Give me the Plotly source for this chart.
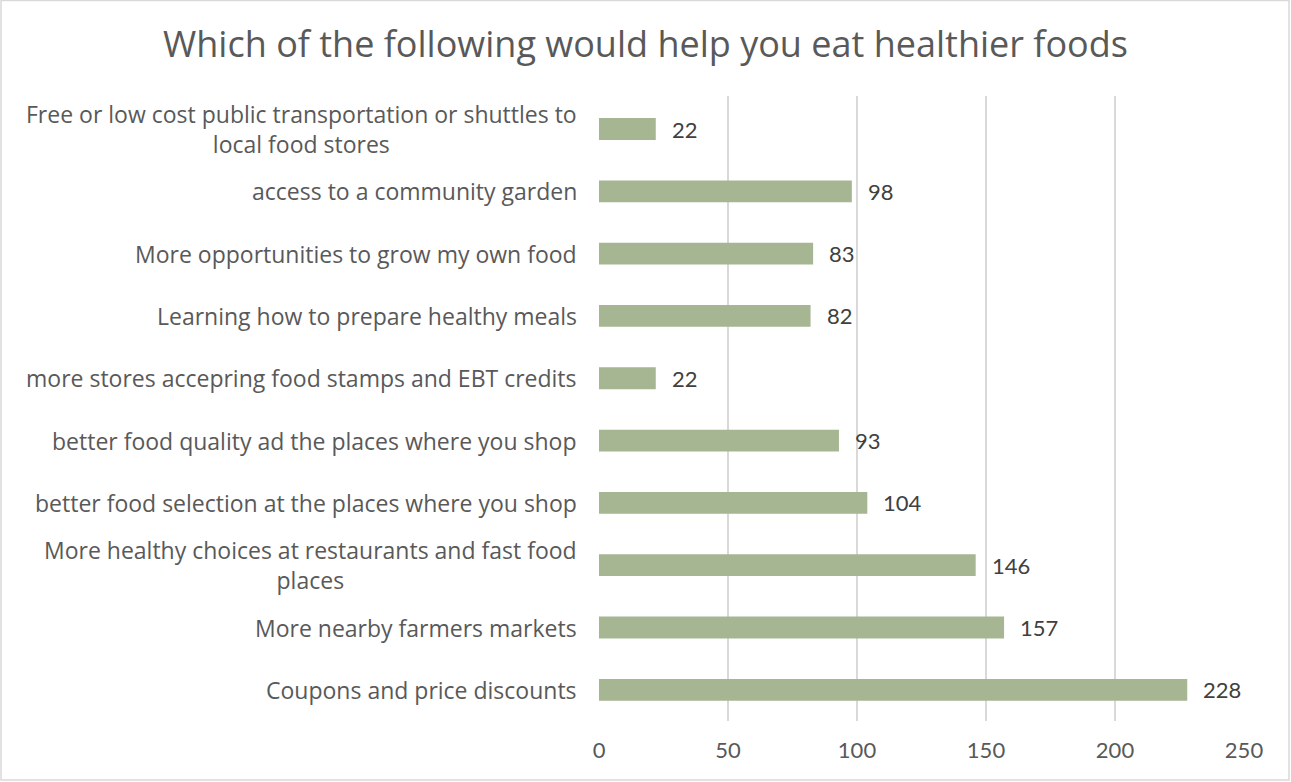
import plotly.graph_objects as go

# Survey responses, listed bottom to top
categories = [
    "Coupons and price discounts",
    "More nearby farmers markets",
    "More healthy choices at restaurants and fast food<br>places",
    "better food selection at the places where you shop",
    "better food quality ad the places where you shop",
    "more stores accepring food stamps and EBT credits",
    "Learning how to prepare healthy meals",
    "More opportunities to grow my own food",
    "access to a community garden",
    "Free or low cost public transportation or shuttles to<br>local food stores",
]
values = [228, 157, 146, 104, 93, 22, 82, 83, 98, 22]
x_ticks = [0, 50, 100, 150, 200, 250]

W, H = 1291, 782
ML, MR, MT, MB = 599, 47, 96, 61

label_font = "Open Sans"
num_font = "Lato"
bar_color = "#a6b592"
text_grey = "#595959"

fig = go.Figure(
    go.Bar(
        x=values,
        y=categories,
        orientation="h",
        marker=dict(color=bar_color, line=dict(width=0)),
        hoverinfo="x+y",
    )
)

annotations = []
# value labels to the right of each bar
for cat, val in zip(categories, values):
    annotations.append(dict(
        x=val, y=cat, xref="x", yref="y",
        text=str(val), showarrow=False,
        xanchor="left", yanchor="middle", xshift=14,
        font=dict(family=num_font, size=22, color="#404040"),
    ))
# category labels, centred line by line
for cat in categories:
    annotations.append(dict(
        x=0, y=cat, xref="paper", yref="y",
        text=cat, showarrow=False, align="center",
        xanchor="right", yanchor="middle", xshift=-20,
        font=dict(family=label_font, size=23, color=text_grey),
    ))

pw = W - ML - MR
ph = H - MT - MB
def px_to_paper_x(px):
    return (px - ML) / pw
def px_to_paper_y(py):
    return 1 - (py - MT) / ph

fig.update_layout(
    width=W, height=H,
    margin=dict(l=ML, r=MR, t=MT, b=MB),
    paper_bgcolor="white", plot_bgcolor="white",
    bargap=0.65,
    showlegend=False,
    title=dict(
        text="Which of the following would help you eat healthier foods",
        x=0.5, xref="container", xanchor="center",
        y=1 - 44 / H, yref="container", yanchor="middle",
        font=dict(family=label_font, size=36, color=text_grey),
    ),
    xaxis=dict(
        range=[0, 250], tickvals=x_ticks,
        showgrid=True, gridcolor="#d9d9d9", gridwidth=1.5,
        zeroline=False, showline=False,
        ticks="outside", ticklen=10, tickcolor="rgba(0,0,0,0)",
        tickfont=dict(family=num_font, size=22, color=text_grey),
        fixedrange=True,
    ),
    yaxis=dict(
        showticklabels=False, showgrid=False, zeroline=False,
        showline=False, fixedrange=True,
    ),
    annotations=annotations,
    shapes=[dict(
        type="rect", xref="paper", yref="paper",
        x0=px_to_paper_x(1), x1=px_to_paper_x(1289),
        y0=px_to_paper_y(780), y1=px_to_paper_y(0.5),
        line=dict(color="#d9d9d9", width=1.5), fillcolor="rgba(0,0,0,0)",
        layer="below",
    )],
)

fig.write_html("out.html")
